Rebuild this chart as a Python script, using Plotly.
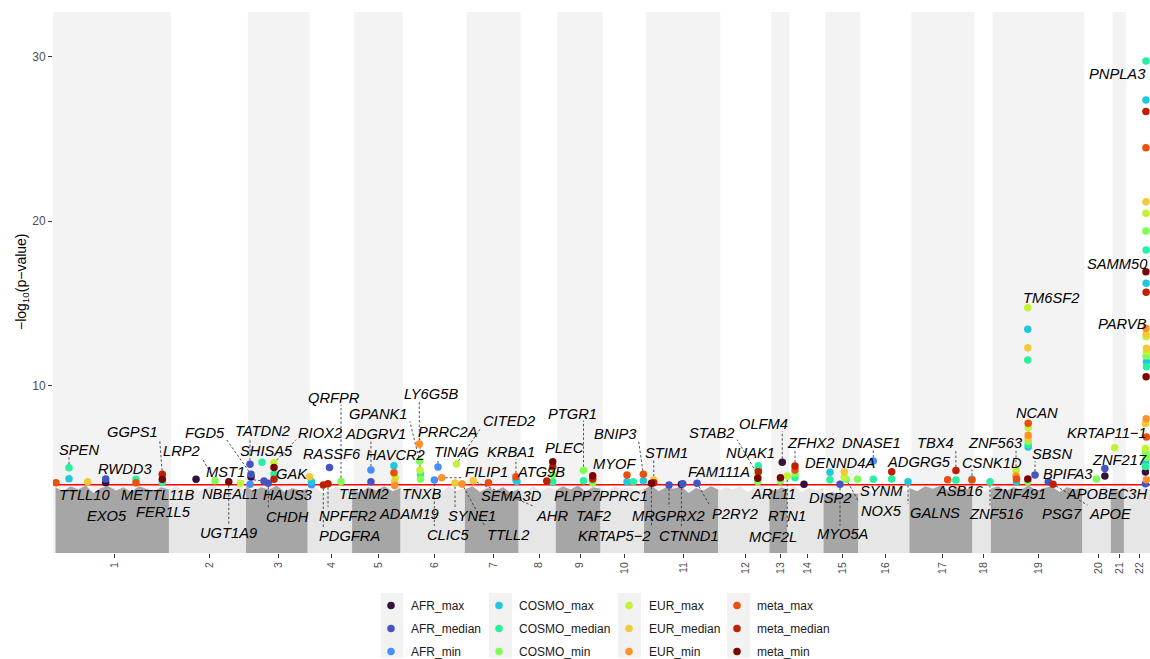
import numpy as np
import plotly.graph_objects as go

# ---------------------------------------------------------------- data
CHROMOSOMES = ["1", "2", "3", "4", "5", "6", "7", "8", "9", "10", "11",
               "12", "13", "14", "15", "16", "17", "18", "19", "20", "21", "22"]
GENES_PER_CHROMOSOME = [1815, 1230, 990, 710, 775, 1025, 865, 590, 720, 695,
                        1190, 815, 290, 575, 560, 815, 1010, 290, 1470, 450, 215, 425]

# upper envelope of the sub-threshold gene cloud, sampled along each chromosome
BACKGROUND_CEILING = [
    [3.85, 3.6, 3.9, 3.7, 3.95, 3.5, 3.8, 3.9, 3.65, 3.85, 3.55, 3.9, 3.75, 3.6, 3.85, 3.7],
    [3.7, 3.9, 3.55, 3.8, 3.6, 3.85, 3.95, 3.5, 3.75, 3.9, 3.6],
    [3.9, 3.6, 3.85, 3.7, 3.95, 3.55, 3.8, 3.65, 3.75],
    [3.6, 3.85, 3.5, 3.7, 3.9, 3.55, 3.8],
    [3.75, 3.5, 3.85, 3.65, 3.9, 3.6, 3.8],
    [3.6, 3.8, 3.95, 3.7, 3.85, 3.5, 3.9, 3.65, 3.8],
    [3.7, 3.9, 3.55, 3.8, 3.65, 3.85, 3.5, 3.75],
    [3.8, 3.55, 3.9, 3.6, 3.85, 3.7],
    [3.65, 3.9, 3.7, 3.95, 3.6, 3.85, 3.75],
    [3.8, 3.6, 3.9, 3.7, 3.85, 3.55, 3.8],
    [3.7, 3.95, 3.6, 3.85, 3.75, 3.9, 3.5, 3.8, 3.65, 3.9, 3.7],
    [3.6, 3.85, 3.7, 3.9, 3.55, 3.8, 3.95, 3.7],
    [3.8, 3.6, 3.85, 3.7],
    [3.7, 3.9, 3.55, 3.8, 3.65, 3.85],
    [3.4, 3.55, 3.35, 3.5, 3.45],
    [3.6, 3.8, 3.5, 3.75, 3.9, 3.6, 3.7, 3.55],
    [3.8, 3.6, 3.9, 3.75, 3.95, 3.65, 3.85, 3.7, 3.8],
    [3.7, 3.9, 3.6, 3.8],
    [3.75, 3.9, 3.6, 3.85, 3.7, 3.95, 3.65, 3.8, 3.9, 3.55, 3.85, 3.7, 3.8],
    [3.7, 3.85, 3.6, 3.9, 3.75],
    [3.8, 3.6, 3.85],
    [3.75, 3.9, 3.6, 3.85, 3.7],
]

GENES = ["TTLL10", "SPEN", "EXO5", "RWDD3", "METTL11B", "GGPS1",
         "FER1L5", "LRP2", "UGT1A9", "NBEAL1",
         "TATDN2", "FGD5", "SHISA5", "MST1", "CHDH", "RIOX2",
         "GAK", "HAUS3", "PDGFRA", "NPFFR2", "RASSF6", "QRFPR",
         "ADGRV1", "HAVCR2", "ADAM19", "TENM2",
         "LY6G5B", "GPANK1", "PRRC2A", "TNXB", "CLIC5", "TINAG", "FILIP1", "SYNE1", "CITED2", "TTLL2",
         "AHR", "SEMA3D", "KRBA1", "ATG9B",
         "TAF2", "PLEC",
         "PTGR1", "PLPP7",
         "MYOF", "PPRC1", "BNIP3",
         "KRTAP5−2", "STIM1", "MRGPRX2", "CTNND1", "FAM111A", "P2RY2",
         "STAB2", "NUAK1",
         "ARL11", "OLFM4", "MCF2L",
         "ZFHX2", "RTN1",
         "DISP2", "MYO5A", "DENND4A", "NOX5", "SYNM",
         "DNASE1", "ADGRG5", "GALNS",
         "ASB16", "TBX4", "CSNK1D",
         "ZNF516",
         "ZNF563", "ZNF491", "TM6SF2", "NCAN", "SBSN", "PSG7", "APOE",
         "BPIFA3", "ZNF217",
         "KRTAP11−1",
         "APOBEC3H", "PNPLA3", "SAMM50", "PARVB"]
GENE_CHROMOSOME = [1, 1, 1, 1, 1, 1,
                   2, 2, 2, 2,
                   3, 3, 3, 3, 3, 3,
                   4, 4, 4, 4, 4, 4,
                   5, 5, 5, 5,
                   6, 6, 6, 6, 6, 6, 6, 6, 6, 6,
                   7, 7, 7, 7,
                   8, 8,
                   9, 9,
                   10, 10, 10,
                   11, 11, 11, 11, 11, 11,
                   12, 12,
                   13, 13, 13,
                   14, 14,
                   15, 15, 15, 15, 15,
                   16, 16, 16,
                   17, 17, 17,
                   18,
                   19, 19, 19, 19, 19, 19, 19,
                   20, 20,
                   21,
                   22, 22, 22, 22]
GENE_RANK = [8, 216, 515, 803, 1288, 1709,
             434, 738, 957, 1146,
             67, 83, 259, 291, 360, 451,
             29, 61, 250, 325, 349, 533,
             302, 670, 682, 691,
             301, 306, 312, 320, 541, 600, 659, 872, 896, 984,
             139, 382, 822, 838,
             450, 546,
             448, 595,
             424, 525, 685,
             120, 157, 402, 600, 622, 850,
             632, 640,
             179, 208, 288,
             122, 266,
             107, 267, 336, 363, 547,
             240, 534, 795,
             614, 747, 1003,
             282,
             408, 416, 597, 603, 712, 925, 1000,
             224, 360,
             67,
             344, 352, 355, 360]

# -log10(p) of significant genes, per ancestry / statistic
AFR_max = {"RWDD3": 4.12, "FGD5": 4.47, "FER1L5": 4.33, "CTNND1": 4.03, "OLFM4": 5.36,
           "RTN1": 4.02, "ZNF217": 4.53, "APOBEC3H": 4.77}
AFR_median = {"RWDD3": 4.34, "TATDN2": 5.24, "FGD5": 4.63, "MST1": 4.22, "CHDH": 4.08,
              "RASSF6": 5.05, "ADGRV1": 4.18, "MRGPRX2": 3.98, "FAM111A": 4.05, "P2RY2": 4.08,
              "MYO5A": 4.02, "SBSN": 4.59, "PSG7": 4.18, "ZNF217": 4.99, "APOBEC3H": 4.05}
AFR_min = {"TATDN2": 4.02, "HAUS3": 4.0, "ADGRV1": 4.89, "CLIC5": 4.28, "TINAG": 5.07,
           "DNASE1": 5.44}
COSMO_max = {"SPEN": 4.36, "HAUS3": 4.18, "HAVCR2": 5.15, "KRBA1": 4.28, "ATG9B": 4.2,
             "MYOF": 4.18, "BNIP3": 4.24, "NUAK1": 4.99, "DISP2": 4.76, "GALNS": 4.18,
             "CSNK1D": 4.33, "ZNF491": 4.18, "TM6SF2": 13.44, "NCAN": 6.29, "APOBEC3H": 5.4,
             "PNPLA3": 27.37, "SAMM50": 16.23, "PARVB": 11.47}
COSMO_median = {"SPEN": 5.03, "METTL11B": 4.33, "GGPS1": 4.14, "SHISA5": 5.36, "RIOX2": 4.63,
                "TNXB": 4.63, "PLEC": 4.18, "PTGR1": 4.24, "PPRC1": 4.18, "NUAK1": 5.15,
                "ZFHX2": 4.42, "DISP2": 4.3, "DNASE1": 4.33, "ADGRG5": 4.34, "TBX4": 4.28,
                "ZNF516": 4.18, "TM6SF2": 11.57, "NCAN": 6.44, "APOBEC3H": 5.1,
                "PNPLA3": 29.74, "SAMM50": 18.26, "PARVB": 11.17}
COSMO_min = {"LRP2": 4.24, "QRFPR": 4.2, "GPANK1": 5.44, "TNXB": 4.33, "PLEC": 4.59,
             "PTGR1": 4.87, "PLPP7": 4.12, "STAB2": 4.18, "ARL11": 4.22, "ZFHX2": 4.65,
             "NOX5": 4.33, "SYNM": 4.33, "BPIFA3": 4.34, "TM6SF2": 4.18, "NCAN": 6.63,
             "APOBEC3H": 5.9, "PNPLA3": 19.41, "SAMM50": 11.82, "PARVB": 5.65}
EUR_max = {"NBEAL1": 4.08, "RIOX2": 5.33, "TENM2": 4.42, "PRRC2A": 4.87, "CITED2": 5.26,
           "STAB2": 4.59, "MCF2L": 4.53, "DENND4A": 4.46, "ZNF563": 4.87, "TM6SF2": 14.75,
           "NCAN": 7.48, "KRTAP11−1": 6.24, "APOBEC3H": 6.2, "PNPLA3": 20.48,
           "SAMM50": 12.99, "PARVB": 12.08}
EUR_median = {"EXO5": 4.18, "GAK": 4.48, "ADAM19": 4.18, "SYNE1": 4.1, "TTLL2": 4.04,
              "AHR": 4.24, "STIM1": 4.28, "DENND4A": 4.79, "TM6SF2": 12.32, "NCAN": 6.82,
              "APOBEC3H": 7.7, "PNPLA3": 21.19, "SAMM50": 13.13, "PARVB": 12.28}
EUR_min = {"ADAM19": 3.95, "LY6G5B": 6.47, "FILIP1": 4.42, "TTLL2": 4.04, "ZNF563": 4.53,
           "NCAN": 7.0, "PNPLA3": 13.5, "SAMM50": 8.0, "PARVB": 4.3}
meta_max = {"TTLL10": 4.12, "METTL11B": 4.12, "HAVCR2": 4.73, "SEMA3D": 4.12, "KRBA1": 4.48,
            "MYOF": 4.59, "BNIP3": 4.63, "ZFHX2": 4.89, "ASB16": 4.3, "CSNK1D": 4.28,
            "ZNF491": 4.34, "NCAN": 7.73, "PNPLA3": 24.47, "PARVB": 6.9}
meta_median = {"GGPS1": 4.63, "RIOX2": 4.33, "PDGFRA": 3.98, "NPFFR2": 4.05, "TAF2": 4.22,
               "PLEC": 5.09, "PLPP7": 4.34, "STIM1": 4.12, "NUAK1": 4.79, "ZFHX2": 5.13,
               "ADGRG5": 4.79, "TBX4": 4.86, "APOE": 4.03, "PNPLA3": 26.66, "SAMM50": 15.69}
meta_min = {"GGPS1": 4.33, "UGT1A9": 4.18, "RIOX2": 5.05, "PLEC": 5.39, "PLPP7": 4.54,
            "KRTAP5−2": 4.08, "STAB2": 4.39, "ARL11": 4.42, "TM6SF2": 4.34, "PNPLA3": 16.94,
            "SAMM50": 10.56}

CATEGORY_NAMES = ["AFR_max", "AFR_median", "AFR_min", "COSMO_max", "COSMO_median", "COSMO_min",
                  "EUR_max", "EUR_median", "EUR_min", "meta_max", "meta_median", "meta_min"]
CATEGORY_VALUES = [AFR_max, AFR_median, AFR_min, COSMO_max, COSMO_median, COSMO_min,
                   EUR_max, EUR_median, EUR_min, meta_max, meta_median, meta_min]
SIGNIFICANCE_LINE = 4

# ---------------------------------------------------------------- styling
FONT = "Liberation Sans, Arial, Helvetica, sans-serif"
CATEGORY_COLORS = ["#30123B", "#4454C4", "#4490FE", "#1FC8DE", "#29EFA2", "#7DFF56",
                   "#C1F334", "#F1CA3A", "#FE922A", "#EA4F0D", "#BE2102", "#7A0403"]
BAND_COLOR = "#f3f3f3"
CLOUD_COLORS = ["#a6a6a6", "#e6e6e6"]

W, H = 1150, 659
M_L, M_R, M_T, M_B = 53, 0, 12, 106
PLOT_W = W - M_L - M_R
PLOT_H = H - M_T - M_B
TOTAL = sum(GENES_PER_CHROMOSOME)
X_RANGE = [-40, TOTAL - 8]
Y_RANGE = [-0.15, 32.71]
GENES_PER_PX = (X_RANGE[1] - X_RANGE[0]) / PLOT_W
UNITS_PER_PX = (Y_RANGE[1] - Y_RANGE[0]) / PLOT_H
BAND_SHIFT = 2 * GENES_PER_PX

# label placement: pixel nudge of the label centre from the gene's top point,
# and whether a connector is drawn
LABEL_LAYOUT = {
    "TTLL10": (28, 11, False), "SPEN": (10, -19, True), "EXO5": (19, 33, False),
    "RWDD3": (19, -10.7, False), "METTL11B": (21.5, 14.7, False), "GGPS1": (-30, -43, True),
    "FER1L5": (-32.5, 32, False), "LRP2": (-33.5, -30.7, True), "UGT1A9": (0, 50, True),
    "NBEAL1": (-11, 10, False), "TATDN2": (12.5, -34, True), "FGD5": (-46, -42.6, True),
    "SHISA5": (4, -12, False), "MST1": (-39, -10, True), "CHDH": (19.5, 33, True),
    "RIOX2": (46, -31, True), "GAK": (-17.5, -4, False), "HAUS3": (-23.5, 12.3, False),
    "PDGFRA": (26, 50, True), "NPFFR2": (19, 31, True), "RASSF6": (2, -14.6, False),
    "QRFPR": (-7, -84.6, True), "ADGRV1": (5, -37.3, True), "HAVCR2": (2, -11.7, False),
    "ADAM19": (14, 31.6, False), "TENM2": (-31, 15.6, False), "GPANK1": (-41.6, -47.7, True),
    "LY6G5B": (12, -50.7, True), "PRRC2A": (28, -39, True), "TNXB": (0.5, 18.4, False),
    "CLIC5": (14, 54, True), "TINAG": (18, -16.3, True), "FILIP1": (45, -7, True),
    "SYNE1": (16.5, 32, True), "CITED2": (52.5, -44, True), "TTLL2": (46, 50, True),
    "AHR": (79, 34, True), "SEMA3D": (23.5, 12.3, False), "KRBA1": (-5, -25.7, True),
    "ATG9B": (24, -10.6, False), "TAF2": (47, 34, False), "PLEC": (12, -15, False),
    "PTGR1": (-11, -57.7, True), "PLPP7": (-15, 19.3, False), "MYOF": (-13, -11.7, False),
    "PPRC1": (-10, 13.3, False), "BNIP3": (-28, -41.7, True), "KRTAP5−2": (-36.7, 51.7, True),
    "STIM1": (12.5, -28.3, True), "MRGPRX2": (-0.8, 30, True), "CTNND1": (7.3, 51, True),
    "FAM111A": (36, -12.5, False), "P2RY2": (38, 30, True), "STAB2": (-46, -43.3, True),
    "NUAK1": (-8, -14, False), "ARL11": (-7, 15.6, False), "OLFM4": (-19, -39, True),
    "MCF2L": (-14, 59.7, True), "ZFHX2": (15.5, -24.3, True), "RTN1": (-17, 30.7, False),
    "DISP2": (0, 24.7, False), "MYO5A": (2, 49, True), "DENND4A": (-4, -10, False),
    "NOX5": (35, 30.7, True), "SYNM": (23.5, 10.7, False), "DNASE1": (-2, -19.3, True),
    "ADGRG5": (27, -11, False), "GALNS": (27, 30, True), "ASB16": (12, 10.7, False),
    "TBX4": (-20.5, -29, True), "CSNK1D": (20, -17.6, True), "ZNF516": (6.5, 31.6, True),
    "ZNF563": (-21, -28.6, True), "ZNF491": (2.5, 14.3, False), "TM6SF2": (23, -11, False),
    "NCAN": (9, -11, False), "SBSN": (17, -21.7, True), "PSG7": (13.7, 31.6, False),
    "APOE": (57, 29, True), "BPIFA3": (-28.5, -5.7, False), "ZNF217": (15, -9.3, False),
    "KRTAP11−1": (-8, -15.5, False), "APOBEC3H": (-38.5, 69.5, False),
    "PNPLA3": (-28, 12, False), "SAMM50": (-29, 13, False), "PARVB": (-23.5, -25, False),
}
LABEL_SIZE = 14.7
EM = {"M": 0.833, "W": 0.944, "I": 0.278, "J": 0.5, "L": 0.556, "F": 0.611, "T": 0.611,
      "Z": 0.611, "C": 0.722, "D": 0.722, "H": 0.722, "N": 0.722, "R": 0.722, "U": 0.722,
      "G": 0.778, "O": 0.778, "Q": 0.778, "−": 0.584}


def text_width(s, size):
    return size * sum(0.556 if ch.isdigit() else EM.get(ch, 0.667) for ch in s)


# ---------------------------------------------------------------- geometry
chrom_start = np.concatenate([[0], np.cumsum(GENES_PER_CHROMOSOME)[:-1]])
chrom_end = chrom_start + np.array(GENES_PER_CHROMOSOME)
gene_x = {g: chrom_start[c - 1] + r for g, c, r in zip(GENES, GENE_CHROMOSOME, GENE_RANK)}
gene_top = {}
for values in CATEGORY_VALUES:
    for g, v in values.items():
        gene_top[g] = max(gene_top.get(g, 0), v)


def to_px(x, y):
    return (x - X_RANGE[0]) / GENES_PER_PX, (Y_RANGE[1] - y) / UNITS_PER_PX


def to_data(px, py):
    return X_RANGE[0] + px * GENES_PER_PX, Y_RANGE[1] - py * UNITS_PER_PX


fig = go.Figure()

# sub-threshold gene cloud, alternating shade per chromosome
for parity in (0, 1):
    xs, ys = [], []
    for i, ceil in enumerate(BACKGROUND_CEILING):
        if i % 2 != parity:
            continue
        pos = np.linspace(chrom_start[i], chrom_end[i], len(ceil))
        xs += [chrom_start[i]] + list(pos) + [chrom_end[i], None]
        ys += [Y_RANGE[0]] + list(ceil) + [Y_RANGE[0], None]
    fig.add_trace(go.Scatter(x=xs, y=ys, mode="lines", fill="toself",
                             fillcolor=CLOUD_COLORS[parity],
                             line=dict(width=0, color=CLOUD_COLORS[parity]),
                             hoverinfo="skip", showlegend=False))

# significance threshold
fig.add_trace(go.Scatter(x=X_RANGE, y=[SIGNIFICANCE_LINE, SIGNIFICANCE_LINE], mode="lines",
                         line=dict(color="#ff0000", width=1.4),
                         hoverinfo="skip", showlegend=False))

# gene labels and their connectors
lx, ly = [], []
annotations = []
for g, (dx, dy, connect) in LABEL_LAYOUT.items():
    ax, ay = gene_x[g], gene_top[g]
    apx, apy = to_px(ax, ay)
    cpx, cpy = apx + dx, apy + dy
    cx, cy = to_data(cpx, cpy + 1)
    annotations.append(dict(x=cx, y=cy, xref="x", yref="y", text=g, showarrow=False,
                            xanchor="center", yanchor="middle",
                            font=dict(size=LABEL_SIZE, color="#000000", family=FONT,
                                      style="italic")))
    if connect:
        hw = text_width(g, LABEL_SIZE) / 2 + 2
        hh = 8
        nx = min(max(apx, cpx - hw), cpx + hw)
        ny = min(max(apy, cpy - hh), cpy + hh)
        vx, vy = nx - apx, ny - apy
        length = (vx ** 2 + vy ** 2) ** 0.5
        if length > 5:
            s = 3.5 / length
            x0, y0 = to_data(apx + vx * s, apy + vy * s)
            x1, y1 = to_data(nx, ny)
            lx += [x0, x1, None]
            ly += [y0, y1, None]
fig.add_trace(go.Scatter(x=lx, y=ly, mode="lines",
                         line=dict(color="#333333", width=0.85, dash="2.5px,2px"),
                         hoverinfo="skip", showlegend=False))

# significant genes, one trace per ancestry / statistic
LEGEND_IDS = ["legend", "legend2", "legend3", "legend4"]
for i, (name, values, color) in enumerate(zip(CATEGORY_NAMES, CATEGORY_VALUES, CATEGORY_COLORS)):
    genes = list(values.keys())
    fig.add_trace(go.Scatter(
        x=[gene_x[g] for g in genes], y=[values[g] for g in genes], text=genes,
        mode="markers", name=name, legend=LEGEND_IDS[i // 3], legendgroup=name,
        marker=dict(size=7.5, color=color, line=dict(width=0)),
        hovertemplate="%{text}<br>%{y:.2f}<extra>" + name + "</extra>"))

# chromosome background bands
shapes = []
for i in range(len(CHROMOSOMES)):
    if i % 2 == 0:
        x0 = X_RANGE[0] if i == 0 else chrom_start[i] + BAND_SHIFT
        shapes.append(dict(type="rect", xref="x", yref="paper", x0=x0, x1=chrom_end[i] + BAND_SHIFT,
                           y0=0, y1=1, fillcolor=BAND_COLOR, line=dict(width=0), layer="below"))

# legend key backgrounds and legend boxes
plot_bottom = M_T + PLOT_H
key_cols = [(381, 403), (489, 512), (618, 641), (727, 750)]
for k0, k1 in key_cols:
    shapes.append(dict(type="rect", xref="paper", yref="paper",
                       x0=(k0 - M_L) / PLOT_W, x1=(k1 - M_L) / PLOT_W,
                       y0=(plot_bottom - 658) / PLOT_H, y1=(plot_bottom - 593) / PLOT_H,
                       fillcolor="#f2f2f2", line=dict(width=0), layer="below"))

legend_left = [371, 479, 609, 717]
legend_layout = {}
for lid, left in zip(LEGEND_IDS, legend_left):
    legend_layout[lid] = dict(
        x=(left - M_L) / PLOT_W, y=(plot_bottom - 591) / PLOT_H, xanchor="left", yanchor="top",
        orientation="v", bgcolor="rgba(0,0,0,0)", borderwidth=0,
        traceorder="grouped", tracegroupgap=4,
        font=dict(size=12, color="#1a1a1a", family=FONT))

annotations.append(dict(x=-31 / PLOT_W, y=(plot_bottom - 282) / PLOT_H, xref="paper", yref="paper",
                        text="−log<sub>10</sub>(p−value)", showarrow=False, textangle=-90,
                        xanchor="center", yanchor="middle",
                        font=dict(size=14, color="#000000", family=FONT)))

tick_pos = (chrom_start + chrom_end) / 2 + BAND_SHIFT

fig.update_layout(
    width=W, height=H,
    margin=dict(l=M_L, r=M_R, t=M_T, b=M_B, pad=0, autoexpand=False),
    paper_bgcolor="white", plot_bgcolor="white",
    font=dict(family=FONT, color="#000000"),
    xaxis=dict(range=X_RANGE, tickmode="array", tickvals=list(tick_pos), ticktext=CHROMOSOMES,
               tickangle=-90, ticks="outside", ticklen=4, tickwidth=1, tickcolor="#333333",
               tickfont=dict(size=10.5, color="#4d4d4d", family=FONT),
               showgrid=False, zeroline=False, showline=False, automargin=False),
    yaxis=dict(range=Y_RANGE, tickmode="array", tickvals=[10, 20, 30],
               ticks="outside", ticklen=4, tickwidth=1, tickcolor="#333333",
               tickfont=dict(size=12, color="#4d4d4d", family=FONT),
               showgrid=False, zeroline=False, showline=False, automargin=False),
    shapes=shapes, annotations=annotations, showlegend=True,
    **legend_layout,
)

fig.write_html("out.html")
